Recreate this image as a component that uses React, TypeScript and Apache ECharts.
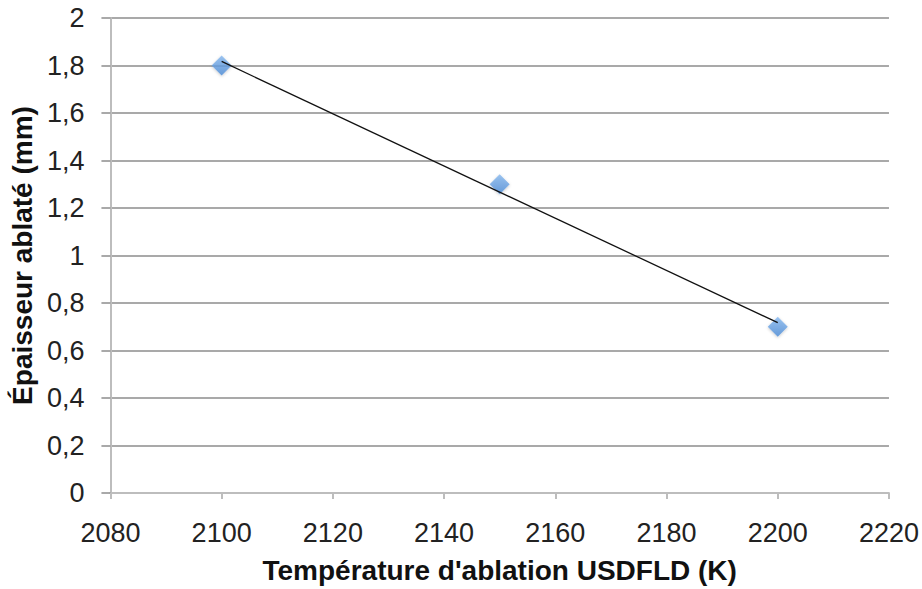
import React, { useEffect, useRef } from "react";
import * as echarts from "echarts";

const temperatures = [2100, 2150, 2200];
const thickness = [1.8, 1.3, 0.7];
const trendX = [2100, 2200];
const trendY = [1.817, 0.717];
const xTitle = "Température d'ablation USDFLD (K)";
const yTitle = "Épaisseur ablaté (mm)";

export default function App() {
  const ref = useRef<HTMLDivElement>(null);
  useEffect(() => {
    if (!ref.current) return;
    const chart = echarts.init(ref.current, null, { renderer: "svg" });
    const fmtY = (v: number) => String(Number(v.toFixed(1))).replace(".", ",");
    const fmtX = (v: number) => String(Math.round(v));
    chart.setOption({
      animation: false,
      backgroundColor: "#ffffff",
      textStyle: { fontFamily: "Liberation Sans, Arial, sans-serif" },
      grid: { left: 110, right: 31, top: 18, bottom: 91, containLabel: false },
      xAxis: {
        type: "value",
        min: 2080,
        max: 2220,
        interval: 20,
        name: xTitle,
        nameLocation: "middle",
        nameGap: 63,
        nameTextStyle: { fontSize: 28, fontWeight: "bold", color: "#111" },
        axisLine: { show: true, lineStyle: { color: "#bdbdbd", width: 2 } },
        axisTick: { show: true, inside: false, length: 6, lineStyle: { color: "#bdbdbd", width: 2 } },
        axisLabel: { fontSize: 27, color: "#222", margin: 26, formatter: fmtX },
        splitLine: { show: false },
      },
      yAxis: {
        type: "value",
        min: 0,
        max: 2,
        interval: 0.2,
        name: yTitle,
        nameLocation: "middle",
        nameGap: 68,
        nameTextStyle: { fontSize: 28, fontWeight: "bold", color: "#111" },
        axisLine: { show: true, lineStyle: { color: "#bdbdbd", width: 2 } },
        axisTick: { show: true, inside: false, length: 9, lineStyle: { color: "#8c8c8c", width: 1.5 } },
        axisLabel: { fontSize: 27, color: "#222", margin: 26, formatter: fmtY },
        splitLine: { show: true, lineStyle: { color: "#8c8c8c", width: 1.5 } },
      },
      series: [
        {
          type: "scatter",
          data: temperatures.map((t, i) => [t, thickness[i]]),
          symbol: "diamond",
          symbolSize: 20,
          itemStyle: {
            color: new echarts.graphic.LinearGradient(0, 0, 0, 1, [
              { offset: 0, color: "#86b8ef" },
              { offset: 1, color: "#4a8ad6" },
            ]),
            shadowColor: "rgba(0,0,0,0.25)",
            shadowBlur: 3,
            shadowOffsetY: 1,
          },
          z: 2,
        },
        {
          type: "line",
          data: trendX.map((t, i) => [t, trendY[i]]),
          symbol: "none",
          lineStyle: { color: "#111", width: 1.3 },
          z: 3,
          silent: true,
        },
      ],
    });
    return () => chart.dispose();
  }, []);
  return (
    <div
      ref={ref}
      style={{ position: "absolute", left: 0, top: 0, width: 922, height: 589 }}
    />
  );
}
